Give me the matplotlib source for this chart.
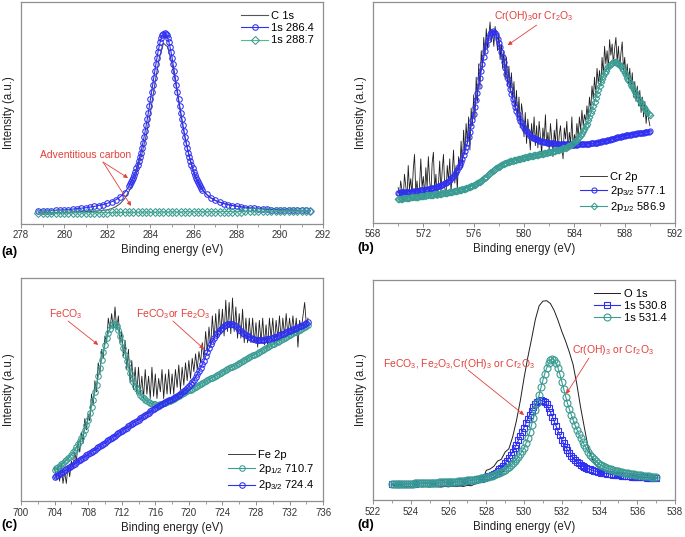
import matplotlib
matplotlib.use("Agg")
import matplotlib.pyplot as plt
from matplotlib.ticker import MultipleLocator
import numpy as np

plt.rcParams["font.family"] = ["Liberation Sans", "DejaVu Sans"]
plt.rcParams["mathtext.fontset"] = "custom"
plt.rcParams["mathtext.rm"] = "Liberation Sans"
plt.rcParams["mathtext.it"] = "Liberation Sans:italic"
plt.rcParams["mathtext.default"] = "regular"

# ---------------- (a) C 1s ----------------
# energy grids in eV (fit curves sampled finer across the peak)
c1s_fit_e = np.concatenate([np.arange(27880, 28300, 20),
                            np.arange(28300, 28640, 5),
                            np.arange(28640, 29160, 20)]) / 100
c1s_line_e = np.arange(27880, 29160, 20) / 100

c1s_raw = [5.2, 5.1, 5.2, 5.1, 5.2, 5.2, 5.3, 5.3, 5.4, 5.4, 5.5, 5.6, 5.6, 5.7, 5.9, 6.1, 6.4, 6.9, 7.8, 9.2, 11.4,
           14.6, 18.9, 24.6, 31.5, 39.8, 50.5, 63.0, 74.5, 81.5, 79.8, 72.0, 61.5, 50.0, 39.0, 30.4, 23.8, 19.0,
           15.5, 13.3, 11.7, 10.6, 9.8, 9.2, 8.7, 8.3, 8.0, 7.7, 7.5, 7.2, 7.0, 6.9, 6.8, 6.6, 6.5, 6.4, 6.3, 6.3,
           6.2, 6.2, 6.1, 6.1, 6.0, 6.0]
c1s_2864 = [5.8, 5.8, 5.9, 6.0, 6.1, 6.2, 6.3, 6.5, 6.7, 6.9, 7.1, 7.3, 7.6, 7.9, 8.3, 8.7, 9.3, 10.0, 10.9, 12.2, 14.1,
            16.9, 17.8, 18.7, 19.8, 20.9, 22.2, 23.5, 25.0, 26.6, 28.3,
            30.2, 32.2, 34.4, 36.7, 39.1, 41.7, 44.4, 47.2, 50.2, 53.2,
            56.3, 59.5, 62.7, 65.9, 69.0, 72.0, 74.9, 77.6, 80.0, 82.1,
            83.7, 85.0, 85.7, 86.0,
            85.7, 85.0, 83.7, 82.1, 80.0, 77.6, 74.9, 72.0, 69.0, 65.9,
            62.7, 59.5, 56.3, 53.2, 50.2, 47.2, 44.4, 41.7, 39.1, 36.7,
            34.4, 32.2, 30.2, 28.3, 26.6, 25.0, 23.5, 22.2, 20.9, 19.8,
            18.7, 17.8, 16.9, 16.2,
            15.5, 13.3, 11.7, 10.6, 9.8, 9.2, 8.7, 8.3, 8.0, 7.7, 7.4, 7.2, 7.0, 6.9, 6.8, 6.6, 6.5, 6.4, 6.4,
            6.3, 6.3, 6.2, 6.2, 6.1, 6.1, 6.0]
c1s_2887 = [4.8, 4.8, 4.8, 4.9, 4.9, 4.9, 4.9, 5.0, 5.0, 5.0, 5.0, 5.0, 5.1, 5.1, 5.1, 5.1, 5.1, 5.2, 5.2, 5.2, 5.2,
            5.2, 5.2, 5.3, 5.3, 5.3, 5.3, 5.3, 5.3, 5.4, 5.4, 5.4, 5.4, 5.4, 5.4, 5.5, 5.5, 5.5,
            5.5, 5.5, 5.5, 5.5, 5.6, 5.6, 5.6, 5.6, 5.6, 5.6, 5.7, 5.7, 5.7, 5.7, 5.7, 5.7, 5.8, 5.8, 5.8, 5.8,
            5.8, 5.8, 5.8, 5.9, 5.9, 5.9]

# ---------------- (b) Cr 2p ----------------
cr_e = np.arange(5700, 5901) / 10

cr_raw = [16, 12, 19, 15, 10, 22, 17, 11, 26, 15,
          20, 13, 24, 31, 14, 19, 11, 17, 29, 16,
          21, 12, 25, 16, 30, 19, 13, 27, 32, 15,
          22, 11, 17, 28, 14, 24, 31, 16, 12, 26,
          19, 29, 14, 23, 33, 18, 26, 15, 30, 24,
          37, 25, 42, 31, 45, 36, 48, 33, 52, 44,
          58, 47, 66, 55, 72, 61, 78, 70, 84, 76,
          88, 79, 84, 91, 82, 87, 80, 89, 84, 78,
          86, 74, 81, 70, 78, 65, 75, 62, 71, 60,
          68, 56, 64, 51, 60, 47, 57, 43, 54, 49,
          39, 50, 36, 47, 41, 33, 45, 38, 48, 35,
          44, 34, 46, 39, 31, 43, 37, 49, 35, 41,
          33, 45, 38, 30, 42, 36, 47, 32, 40, 44,
          35, 29, 43, 38, 46, 33, 41, 36, 48, 34,
          40, 37, 45, 39, 48, 42, 51, 44, 49, 46,
          53, 47, 57, 51, 62, 56, 66, 58, 70, 63,
          69, 62, 75, 67, 80, 72, 78, 70, 83, 76,
          81, 72, 79, 84, 73, 80, 70, 77, 82, 69,
          75, 66, 72, 63, 70, 61, 68, 57, 64, 55,
          62, 53, 60, 50, 57, 48, 55, 45, 52, 47,
          44]
cr_2p32 = [13.7, 13.7, 13.8, 13.8, 13.9, 13.9, 13.9, 14.0, 14.1, 14.1,
           14.2, 14.2, 14.3, 14.4, 14.4, 14.5, 14.6, 14.7, 14.8, 14.9,
           15.0, 15.1, 15.1, 15.3, 15.4, 15.5, 15.6, 15.8, 15.9, 16.0,
           16.2, 16.4, 16.6, 16.8, 17.0, 17.3, 17.6, 17.9, 18.2, 18.6,
           19.0, 19.5, 20.1, 20.6, 21.3, 22.1, 23.0, 24.0, 25.1, 26.2,
           27.5, 29.1, 30.6, 32.5, 34.3, 36.4, 38.8, 41.2, 43.8, 46.6,
           49.5, 52.6, 55.7, 59.0, 62.2, 65.5, 68.9, 72.1, 75.1, 77.8,
           80.4, 82.7, 84.4, 85.7, 86.6, 86.9, 86.7, 86.1, 85.0, 83.5,
           81.7, 79.7, 77.5, 75.1, 72.7, 70.2, 67.6, 65.2, 62.8, 60.6,
           58.3, 56.2, 54.2, 52.3, 50.7, 49.1, 47.6, 46.3, 45.1, 44.0,
           43.1, 42.2, 41.4, 40.7, 40.1, 39.5, 39.1, 38.6, 38.3, 38.0,
           37.8, 37.5, 37.3, 37.1, 37.0, 36.8, 36.7, 36.5, 36.4, 36.3,
           36.2, 36.1, 36.1, 36.0, 36.0, 35.9, 35.8, 35.8, 35.8, 35.8,
           35.7, 35.7, 35.7, 35.6, 35.6, 35.6, 35.6, 35.5, 35.5, 35.5,
           35.5, 35.5, 35.5, 35.6, 35.6, 35.6, 35.6, 35.7, 35.7, 35.7,
           35.7, 35.8, 35.9, 36.0, 36.0, 36.1, 36.2, 36.3, 36.4, 36.5,
           36.6, 36.7, 36.9, 37.0, 37.1, 37.3, 37.4, 37.6, 37.7, 37.9,
           38.1, 38.2, 38.4, 38.5, 38.7, 38.8, 38.9, 39.1, 39.2, 39.3,
           39.5, 39.6, 39.7, 39.8, 39.9, 40.0, 40.1, 40.2, 40.3, 40.4,
           40.5, 40.6, 40.7, 40.8, 40.9, 40.9, 41.0, 41.1, 41.2, 41.3,
           41.4]
cr_2p12 = [10.8, 10.9, 10.9, 11.0, 11.1, 11.2, 11.2, 11.3, 11.4, 11.4,
           11.5, 11.6, 11.6, 11.7, 11.8, 11.9, 11.9, 12.0, 12.1, 12.1,
           12.2, 12.3, 12.4, 12.4, 12.5, 12.6, 12.7, 12.8, 12.8, 12.9,
           13.0, 13.1, 13.2, 13.2, 13.3, 13.4, 13.5, 13.6, 13.6, 13.7,
           13.8, 13.9, 14.0, 14.1, 14.3, 14.4, 14.5, 14.6, 14.8, 14.9,
           15.0, 15.2, 15.3, 15.5, 15.7, 15.9, 16.1, 16.4, 16.6, 16.8,
           17.0, 17.3, 17.6, 17.9, 18.3, 18.7, 19.1, 19.6, 20.1, 20.5,
           21.0, 21.5, 22.0, 22.5, 23.0, 23.5, 23.9, 24.4, 24.8, 25.2,
           25.5, 25.9, 26.2, 26.5, 26.8, 27.0, 27.3, 27.5, 27.7, 27.9,
           28.0, 28.2, 28.4, 28.5, 28.7, 28.8, 29.0, 29.1, 29.3, 29.4,
           29.6, 29.7, 29.8, 30.0, 30.1, 30.2, 30.3, 30.4, 30.6, 30.7,
           30.8, 30.9, 31.0, 31.2, 31.3, 31.4, 31.5, 31.6, 31.8, 31.9,
           32.0, 32.1, 32.3, 32.4, 32.5, 32.7, 32.8, 33.0, 33.1, 33.3,
           33.5, 33.7, 33.9, 34.1, 34.3, 34.6, 34.9, 35.3, 35.6, 36.0,
           36.5, 37.0, 37.6, 38.3, 39.0, 39.8, 40.7, 41.7, 42.7, 43.8,
           45.0, 46.5, 48.0, 49.6, 51.3, 53.0, 54.8, 56.6, 58.4, 60.2,
           62.0, 63.6, 65.1, 66.6, 67.9, 69.0, 70.0, 70.9, 71.6, 72.2,
           72.6, 72.9, 73.0, 72.9, 72.6, 72.2, 71.6, 70.9, 70.1, 69.1,
           68.0, 66.9, 65.8, 64.7, 63.6, 62.5, 61.4, 60.3, 59.2, 58.1,
           57.0, 56.1, 55.2, 54.3, 53.4, 52.5, 51.7, 50.9, 50.1, 49.4,
           48.7]

# ---------------- (c) Fe 2p ----------------
fe_e = np.arange(3520, 3672) / 5

fe_raw = [15, 10, 16, 9, 17, 8, 13, 8, 16, 11,
          18, 15, 22, 18, 27, 22, 31, 26, 37, 32,
          39, 36, 48, 43, 54, 49, 62, 57, 68, 64,
          74, 71, 82, 77, 84, 77, 87, 77, 83, 71,
          76, 65, 72, 59, 68, 53, 63, 50, 60, 48,
          60, 48, 56, 46, 59, 48, 56, 46, 60, 47,
          57, 46, 55, 49, 59, 46, 57, 48, 59, 48,
          57, 48, 59, 51, 61, 50, 60, 52, 62, 54,
          63, 55, 64, 58, 66, 59, 67, 62, 71, 64,
          76, 67, 78, 69, 83, 72, 84, 73, 86, 75,
          86, 74, 90, 76, 89, 75, 91, 76, 87, 73,
          84, 73, 86, 71, 82, 71, 82, 71, 82, 71,
          80, 69, 81, 71, 82, 70, 79, 69, 82, 73,
          82, 71, 81, 73, 83, 72, 82, 74, 84, 74,
          82, 75, 83, 75, 82, 69, 81, 77, 83, 89,
          79, 82]
fe_2p12 = [14.2, 14.7, 15.3, 15.9, 16.5, 17.2, 17.9, 18.5, 19.2, 20.0,
           20.9, 21.9, 23.0, 24.2, 25.5, 26.9, 28.5, 30.2, 32.1, 34.2,
           36.6, 39.3, 42.3, 45.4, 48.7, 52.2, 55.9, 59.7, 63.4, 66.9,
           70.1, 72.9, 75.3, 77.3, 78.7, 79.5, 79.4, 78.3, 76.5, 74.2,
           71.5, 68.6, 65.6, 62.7, 60.0, 57.5, 55.3, 53.4, 51.7, 50.2,
           48.9, 47.8, 46.9, 46.1, 45.4, 44.8, 44.4, 44.0, 43.7, 43.5,
           43.4, 43.3, 43.3, 43.4, 43.6, 43.8, 44.1, 44.4, 44.7, 45.1,
           45.5, 45.9, 46.3, 46.7, 47.1, 47.5, 47.9, 48.4, 48.8, 49.2,
           49.6, 50.0, 50.4, 50.8, 51.3, 51.7, 52.1, 52.5, 52.9, 53.3,
           53.7, 54.1, 54.6, 55.0, 55.4, 55.8, 56.2, 56.6, 57.0, 57.4,
           57.9, 58.3, 58.7, 59.1, 59.5, 59.9, 60.3, 60.7, 61.2, 61.6,
           62.0, 62.4, 62.8, 63.2, 63.6, 64.0, 64.5, 64.9, 65.3, 65.7,
           66.1, 66.5, 66.9, 67.3, 67.8, 68.2, 68.6, 69.0, 69.4, 69.8,
           70.2, 70.6, 71.1, 71.5, 71.9, 72.3, 72.7, 73.1, 73.5, 73.9,
           74.4, 74.8, 75.2, 75.6, 76.0, 76.4, 76.8, 77.2, 77.7, 78.1,
           78.5, 78.9]
fe_2p32 = [10.7, 11.2, 11.7, 12.3, 12.8, 13.3, 13.8, 14.3, 14.8, 15.4,
           15.9, 16.4, 16.9, 17.4, 17.9, 18.5, 19.0, 19.5, 20.0, 20.5,
           21.1, 21.6, 22.1, 22.6, 23.1, 23.7, 24.2, 24.7, 25.2, 25.7,
           26.2, 26.8, 27.3, 27.8, 28.3, 28.8, 29.4, 29.9, 30.4, 30.9,
           31.4, 32.0, 32.5, 33.0, 33.5, 34.0, 34.5, 35.1, 35.6, 36.1,
           36.6, 37.1, 37.7, 38.2, 38.7, 39.2, 39.7, 40.3, 40.8, 41.3,
           41.8,
           42.3, 42.8, 43.3, 43.7, 44.1, 44.5, 44.9, 45.2, 45.5, 45.9,
           46.3, 46.7, 47.1, 47.6, 48.1, 48.7, 49.3, 50.0, 50.7, 51.5,
           52.4, 53.4, 54.5, 55.6, 56.8, 58.2, 59.7, 61.3, 63.0, 64.9,
           66.7, 68.5, 70.2, 71.7, 73.1, 74.4, 75.5, 76.4, 77.1, 77.7,
           78.3, 78.8, 79.2, 79.4, 79.4, 79.2, 78.8, 78.3, 77.6, 76.9,
           76.2, 75.5, 74.9, 74.4, 73.9, 73.5, 73.1, 72.8, 72.6, 72.4,
           72.3, 72.2, 72.2, 72.3, 72.4, 72.5, 72.6, 72.8, 72.9, 73.1,
           73.4, 73.7, 74.0, 74.4, 74.8, 75.1, 75.4, 75.8, 76.1, 76.4,
           76.7, 77.0, 77.3, 77.6, 77.9, 78.3, 78.6, 79.0, 79.4, 79.8,
           80.1]

# ---------------- (d) O 1s ----------------
o1s_fit_e = np.arange(5230, 5371) / 10
o1s_line_e = np.arange(2615, 2686) / 5

o1s_raw = [7.1, 6.6, 6.3, 6.5, 6.2, 6.3, 6.0, 6.4, 6.1, 6.3,
           6.0, 6.4, 6.2, 6.0, 6.3, 6.1, 6.4, 6.2, 6.5, 6.3,
           6.8, 6.6, 7.4, 8.3, 9.0, 13.6, 14.2, 15.4, 17.8, 18.6,
           21.9, 23.4, 28.8, 36.2, 45.0, 55.4, 64.8, 73.2, 82.0, 88.2,
           90.3, 90.5, 89.2, 86.0, 81.6, 76.6, 72.2, 67.2, 61.5, 52.5,
           42.0, 32.8, 23.9, 18.8, 16.2, 14.7, 13.9, 13.1, 12.6, 12.0,
           11.6, 11.4, 11.1, 11.0, 10.8, 10.7, 10.6, 10.4, 10.3, 10.2,
           10.1]
o1s_5308 = [7.4, 7.4, 7.4, 7.5, 7.5, 7.5, 7.5, 7.5, 7.5, 7.6,
            7.6, 7.6, 7.6, 7.7, 7.7, 7.7, 7.7, 7.8, 7.8, 7.8,
            7.8, 7.8, 7.9, 7.9, 7.9, 8.0, 8.0, 8.1, 8.1, 8.1,
            8.2, 8.2, 8.3, 8.3, 8.4, 8.5, 8.5, 8.6, 8.7, 8.8,
            8.9, 9.0, 9.1, 9.2, 9.3, 9.5, 9.6, 9.8, 10.0, 10.3,
            10.6, 10.9, 11.2, 11.6, 12.1, 12.6, 13.3, 14.0, 14.8, 15.7,
            16.8, 17.9, 19.1, 20.5, 22.0, 23.6, 25.3, 27.2, 29.0, 30.9,
            33.0, 35.0, 36.9, 38.9, 40.6, 42.2, 43.5, 44.4, 45.1, 45.3,
            45.1, 44.6, 43.7, 41.8, 40.0, 38.0, 35.8, 33.6, 31.4, 29.4,
            27.5, 25.8, 24.2, 22.8, 21.5, 20.3, 19.2, 18.3, 17.5, 16.8,
            16.2, 15.6, 15.1, 14.7, 14.3, 14.0, 13.7, 13.4, 13.2, 13.0,
            12.8, 12.6, 12.4, 12.3, 12.1, 12.0, 11.8, 11.7, 11.6, 11.5,
            11.4, 11.3, 11.2, 11.1, 11.0, 10.9, 10.9, 10.8, 10.7, 10.7,
            10.6, 10.5, 10.5, 10.4, 10.4, 10.3, 10.3, 10.2, 10.2, 10.1,
            10.1]
o1s_5314 = [7.4, 7.4, 7.4, 7.5, 7.5, 7.5, 7.5, 7.5, 7.6, 7.6,
            7.6, 7.6, 7.7, 7.7, 7.7, 7.7, 7.8, 7.8, 7.8, 7.9,
            7.9, 7.9, 8.0, 8.0, 8.0, 8.1, 8.1, 8.2, 8.2, 8.3,
            8.3, 8.4, 8.4, 8.5, 8.5, 8.6, 8.7, 8.7, 8.8, 8.9,
            9.0, 9.1, 9.2, 9.3, 9.4, 9.5, 9.7, 9.9, 10.0, 10.2,
            10.4, 10.6, 10.9, 11.2, 11.5, 11.8, 12.2, 12.6, 13.0, 13.4,
            13.9, 14.5, 15.2, 16.0, 16.8, 17.7, 18.7, 19.8, 21.0, 22.3,
            23.7, 25.8, 28.1, 31.0, 34.1, 37.3, 40.8, 44.3, 47.8, 51.2,
            54.5, 57.5, 60.0, 62.2, 63.6, 64.1, 63.6, 62.2, 60.0, 57.1,
            53.8, 50.4, 47.0, 44.0, 41.3, 38.8, 36.4, 34.1, 32.0, 30.0,
            28.2, 26.6, 25.0, 23.5, 22.0, 20.7, 19.6, 18.6, 17.7, 16.9,
            16.2, 15.8, 15.4, 15.0, 14.6, 14.3, 14.0, 13.8, 13.5, 13.3,
            13.1, 12.9, 12.7, 12.5, 12.4, 12.2, 12.1, 12.0, 11.9, 11.7,
            11.6, 11.5, 11.4, 11.2, 11.1, 11.0, 10.9, 10.8, 10.6, 10.5,
            10.4]

black_c = "#1e1e1e"
blue_c = "#2f2ff2"
teal_c = "#3a9c92"
red_c = "#e2403a"
spine_c = "#8f8f8f"

fig = plt.figure(figsize=(6.85, 5.37), dpi=100)
ax_a = fig.add_axes([0.0307, 0.583, 0.441, 0.413])
ax_b = fig.add_axes([0.5445, 0.585, 0.441, 0.411])
ax_c = fig.add_axes([0.0307, 0.0665, 0.441, 0.416])
ax_d = fig.add_axes([0.5445, 0.0683, 0.441, 0.4107])


def style(ax, lo, hi, major, minor):
    ax.set_xlim(lo, hi)
    ax.set_ylim(0, 100)
    ax.xaxis.set_major_locator(MultipleLocator(major))
    ax.xaxis.set_minor_locator(MultipleLocator(minor))
    ax.set_yticks([])
    ax.tick_params(axis="x", which="major", direction="out", length=3, width=0.7,
                   color=spine_c, labelsize=7, labelcolor="#333333", pad=1.5)
    ax.tick_params(axis="x", which="minor", direction="out", length=1.8, width=0.6, color=spine_c)
    for s in ax.spines.values():
        s.set_color(spine_c)
        s.set_linewidth(0.9)
    ax.set_xlabel("Binding energy (eV)", fontsize=8.3, color="#222222", labelpad=3)
    ax.set_ylabel("Intensity (a.u.)", fontsize=8.3, color="#222222", labelpad=4)


def arrow(ax, start, end):
    ax.annotate("", xy=end, xytext=start,
                arrowprops=dict(arrowstyle="-|>", color=red_c, lw=0.6,
                                mutation_scale=6, shrinkA=0, shrinkB=0))


leg_kw = dict(frameon=False, fontsize=8, handlelength=2.4, handletextpad=0.3,
              labelspacing=0.2, numpoints=1, borderaxespad=0.4)

# (a)
ax_a.plot(c1s_line_e, c1s_raw, color="#555555", lw=0.8, label="C 1s")
ax_a.plot(c1s_fit_e, c1s_2864, color=blue_c, lw=0.8, marker="o", ms=4.0, mfc="none",
          mec=blue_c, mew=0.75, label="1s 286.4")
ax_a.plot(c1s_line_e, c1s_2887, color="#55b98a", lw=0.8, marker="D", ms=3.6, mfc="none",
          mec=teal_c, mew=0.75, label="1s 288.7")
style(ax_a, 278, 292, 2, 1)
ax_a.legend(loc="upper right", **leg_kw)
ax_a.text(281.0, 31.1, "Adventitious carbon", color=red_c, fontsize=7.5, ha="center", va="center")
arrow(ax_a, (281.8, 27.9), (282.96, 20.7))
arrow(ax_a, (281.8, 27.9), (283.1, 8.1))

# (b)
ax_b.plot(cr_e, cr_raw, color=black_c, lw=0.6, label="Cr 2p")
ax_b.plot(cr_e, cr_2p32, color=blue_c, lw=0.8, marker="o", ms=3.7, mfc="none",
          mec=blue_c, mew=0.75, label="2p$_{3/2}$ 577.1")
ax_b.plot(cr_e, cr_2p12, color=teal_c, lw=0.8, marker="D", ms=3.4, mfc="none",
          mec=teal_c, mew=0.75, label="2p$_{1/2}$ 586.9")
style(ax_b, 568, 592, 4, 2)
ax_b.legend(loc="lower right", **leg_kw)
ax_b.text(580.76, 93.7, "Cr(OH)$_3$or Cr$_2$O$_3$", color=red_c, fontsize=7.5, ha="center", va="center")
arrow(ax_b, (581.0, 89.6), (578.7, 80.5))

# (c)
ax_c.plot(fe_e, fe_raw, color=black_c, lw=0.6, label="Fe 2p")
ax_c.plot(fe_e, fe_2p12, color=teal_c, lw=0.8, marker="o", ms=4.0, mfc="none",
          mec=teal_c, mew=0.75, label="2p$_{1/2}$ 710.7")
ax_c.plot(fe_e, fe_2p32, color=blue_c, lw=0.8, marker="o", ms=4.0, mfc="none",
          mec=blue_c, mew=0.75, label="2p$_{3/2}$ 724.4")
style(ax_c, 700, 736, 4, 2)
ax_c.legend(loc="lower right", **leg_kw)
ax_c.text(705.3, 83.6, "FeCO$_3$", color=red_c, fontsize=7.5, ha="center", va="center")
arrow(ax_c, (705.6, 80.7), (709.2, 70.0))
ax_c.text(718.2, 83.6, "FeCO$_3$or Fe$_2$O$_3$", color=red_c, fontsize=7.5, ha="center", va="center")
arrow(ax_c, (718.1, 80.7), (721.8, 68.2))

# (d)
ax_d.plot(o1s_line_e, o1s_raw, color=black_c, lw=0.7, label="O 1s")
ax_d.plot(o1s_fit_e, o1s_5308, color=blue_c, lw=0.8, marker="s", ms=4.5, mfc="none",
          mec=blue_c, mew=0.8, label="1s 530.8")
ax_d.plot(o1s_fit_e, o1s_5314, color=teal_c, lw=0.8, marker="o", ms=5, mfc="none",
          mec=teal_c, mew=0.8, label="1s 531.4")
style(ax_d, 522, 538, 2, 1)
ax_d.legend(loc="upper right", **leg_kw)
ax_d.text(526.56, 61.9, "FeCO$_3$, Fe$_2$O$_3$,Cr(OH)$_3$ or Cr$_2$O$_3$", color=red_c,
          fontsize=7.5, ha="center", va="center")
arrow(ax_d, (527.03, 59.1), (530.0, 38.7))
ax_d.text(534.69, 68.3, "Cr(OH)$_3$ or Cr$_2$O$_3$", color=red_c, fontsize=7.5, ha="center", va="center")
arrow(ax_d, (533.44, 64.5), (532.23, 48.2))

for lbl, x, y in [("(a)", 1, 252), ("(b)", 357, 248), ("(c)", 1, 525), ("(d)", 357, 525)]:
    fig.text(x / 685, 1 - y / 537, lbl, fontsize=9.5, fontweight="bold", ha="left", va="center")

fig.savefig("out.png", dpi=100)
